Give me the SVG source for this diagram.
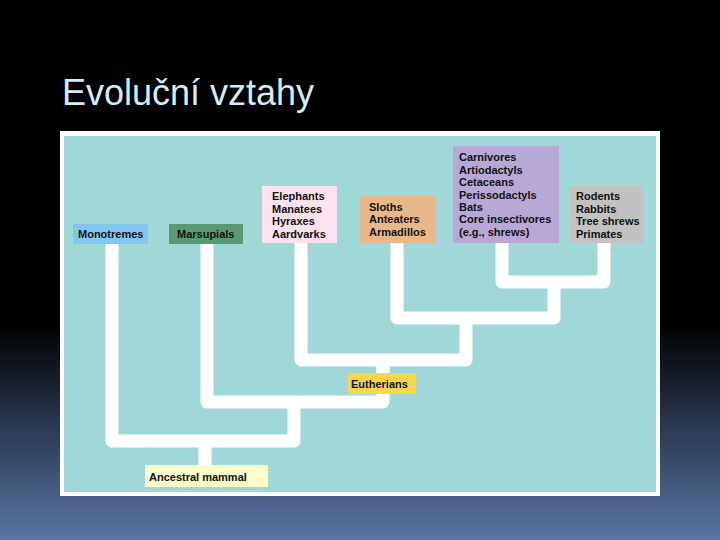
<svg xmlns="http://www.w3.org/2000/svg" width="720" height="540" viewBox="0 0 720 540">
<defs>
<linearGradient id="bg" x1="0" y1="0" x2="0" y2="1">
<stop offset="0" stop-color="#000"/><stop offset="0.6" stop-color="#000"/><stop offset="1" stop-color="#5a76a6"/>
</linearGradient>
<style>
.t{font-family:"Liberation Sans",Arial,sans-serif;font-weight:bold;font-size:11px;fill:#111}
.br{fill:none;stroke:#fff;stroke-width:13;stroke-linejoin:round}
</style>
</defs>
<rect width="720" height="540" fill="url(#bg)"/>
<text x="62" y="105" font-family="Liberation Sans,Arial,sans-serif" font-size="36" fill="#d4ecfa">Evoluční vztahy</text>
<rect x="60" y="131" width="600" height="365" fill="#fff"/>
<rect x="64" y="136" width="592" height="356" fill="#9fd8d6"/>
<g id="connectors">
<path class="br" d="M112 244V441H294V402"/>
<path class="br" d="M207 244V402H383V360"/>
<path class="br" d="M205 441V466"/>
<path class="br" d="M301 243V360H466V318"/>
<path class="br" d="M397 243V318H554V282"/>
<path class="br" d="M502 243V282H604V243"/>
<path class="br" d="M383 360V374"/>
</g>
<g id="monotremes"><rect x="73" y="224" width="75" height="20" fill="#80c8f2"/><text class="t" x="78" y="238">Monotremes</text></g>
<g id="marsupials"><rect x="169" y="224" width="74" height="20" fill="#5a9a72"/><text class="t" x="177" y="238">Marsupials</text></g>
<g id="afrotheria"><rect x="262" y="186" width="75" height="57" fill="#fbe2ee"/><text class="t" x="272" y="200">Elephants</text><text class="t" x="272" y="213">Manatees</text><text class="t" x="272" y="225">Hyraxes</text><text class="t" x="272" y="238">Aardvarks</text></g>
<g id="xenarthra"><rect x="360" y="196" width="76" height="47" fill="#e9b88a"/><text class="t" x="369" y="211">Sloths</text><text class="t" x="369" y="223">Anteaters</text><text class="t" x="369" y="236">Armadillos</text></g>
<g id="laurasiatheria"><rect x="453" y="146" width="106" height="97" fill="#b8a8d6"/><text class="t" x="459" y="161">Carnivores</text><text class="t" x="459" y="174">Artiodactyls</text><text class="t" x="459" y="186">Cetaceans</text><text class="t" x="459" y="199">Perissodactyls</text><text class="t" x="459" y="211">Bats</text><text class="t" x="459" y="223">Core insectivores</text><text class="t" x="459" y="236">(e.g., shrews)</text></g>
<g id="euarchontoglires"><rect x="569" y="186" width="75" height="57" fill="#c2c2c2"/><text class="t" x="576" y="200">Rodents</text><text class="t" x="576" y="213">Rabbits</text><text class="t" x="576" y="225">Tree shrews</text><text class="t" x="576" y="238">Primates</text></g>
<g id="eutherians"><rect x="348" y="373" width="68" height="21" fill="#f8d64e"/><text class="t" x="351" y="388">Eutherians</text></g>
<g id="ancestral"><rect x="145" y="465" width="123" height="22" fill="#fcfcca"/><text class="t" x="149" y="481">Ancestral mammal</text></g>
</svg>
